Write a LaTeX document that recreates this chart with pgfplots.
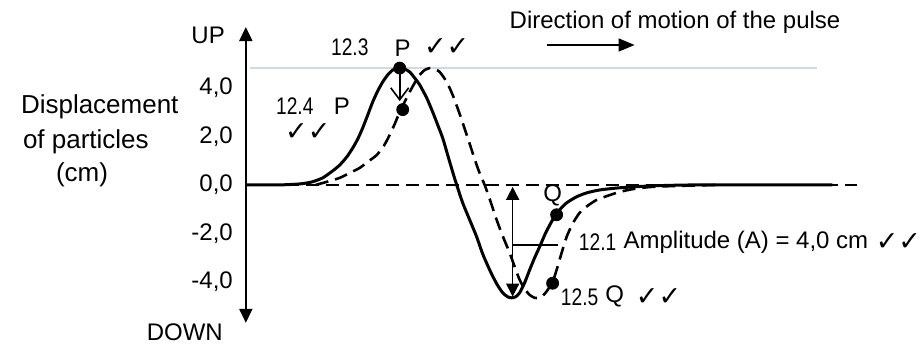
\documentclass[border=0pt]{standalone}
\usepackage{fontspec}
\setmainfont{Liberation Sans}
\newfontfamily\dejavu{DejaVu Sans}
\usepackage{graphicx}
\usepackage{pgfplots}
\pgfplotsset{compat=1.18}
\usetikzlibrary{arrows.meta}

\newcommand{\ck}{{\dejavu\fontsize{13.5}{15}\selectfont ✓✓}}
\newcommand{\nr}[1]{\scalebox{0.8}[1]{#1}}

\definecolor{peakline}{RGB}{205,218,235}

\begin{document}
\begin{tikzpicture}[font=\fontsize{12}{14}\selectfont]
\begin{axis}[
    x=5pt, y=12.15pt,
    xmin=0, xmax=62, ymin=-5.68, ymax=6.5,
    axis x line=none, axis y line=left,
    y axis line style={line width=1pt,
      {Triangle[length=7pt,width=6.5pt]}-{Triangle[length=7pt,width=6.5pt]}},
    ytick={-4,-2,0,2,4},
    yticklabels={{\mbox{-4,0}},{\mbox{-2,0}},{\mbox{0,0}},{\mbox{2,0}},{\mbox{4,0}}},
    major tick length=0pt,
    yticklabel style={font=\fontsize{12}{14}\selectfont, xshift=-3pt},
    clip=false,
  ]
  % level of the crest
  \addplot[peakline, line width=0.6pt] coordinates {(0.4,4.81) (57.2,4.81)};
  % rest position
  \addplot[black, line width=1.2pt, dash pattern=on 6.5pt off 3.5pt] coordinates {(0,0) (61.2,0)};

  % pulse at t
  \addplot[black, line width=1.5pt, smooth, tension=0.4] coordinates {
    (0,0) (3.4,0) (5.4,0.04) (6.6,0.12) (7.7,0.29) (8.7,0.58) (9.4,0.82)
    (10.1,1.15) (10.7,1.52) (11.2,1.89) (11.7,2.35) (12.2,2.88) (12.7,3.42)
    (13.2,3.87) (13.7,4.24) (14.2,4.53) (14.7,4.73) (15.4,4.81) (15.9,4.77)
    (16.4,4.65) (16.9,4.40) (17.4,4.12) (18.1,3.58) (18.7,3.00) (19.2,2.47)
    (19.7,1.93) (20.2,1.23) (20.7,0.53) (21.1,0) (21.7,-0.74) (22.4,-1.44)
    (23.1,-2.14) (23.7,-2.84) (24.4,-3.50) (25.1,-4.07) (25.7,-4.44)
    (26.2,-4.61) (26.6,-4.65) (27.0,-4.61) (27.4,-4.44) (27.9,-4.03)
    (28.4,-3.50) (28.9,-3.00) (29.4,-2.55) (30.0,-1.98) (30.7,-1.44)
    (31.4,-1.03) (32.1,-0.74) (33.1,-0.49) (34.1,-0.33) (35.4,-0.21)
    (37.4,-0.12) (40.7,-0.04) (45.4,0) (58.7,0)};

  % pulse a moment later
  \addplot[black, line width=1.3pt, dash pattern=on 6.5pt off 3.5pt, smooth, tension=0.4] coordinates {
    (7.0,0) (8.4,0.16) (9.4,0.29) (10.4,0.49) (11.4,0.70) (12.2,0.95)
    (13.1,1.23) (13.8,1.60) (14.4,2.06) (14.9,2.51) (15.4,3.00) (15.9,3.42)
    (16.4,3.83) (16.9,4.20) (17.4,4.53) (17.9,4.73) (18.4,4.81) (18.9,4.77)
    (19.4,4.65) (20.1,4.24) (20.7,3.70) (21.4,2.92) (22.1,2.06) (22.6,1.44)
    (23.1,0.82) (23.5,0.37) (23.9,0) (24.5,-0.70) (25.1,-1.44) (25.7,-2.10)
    (26.4,-2.80) (26.9,-3.37) (27.4,-3.91) (27.9,-4.28) (28.4,-4.53)
    (28.9,-4.65) (29.4,-4.65) (29.9,-4.49) (30.4,-4.20) (30.8,-3.87)
    (31.1,-3.50) (31.6,-2.80) (32.1,-2.14) (32.7,-1.60) (33.4,-1.15)
    (34.2,-0.86) (35.1,-0.62) (36.2,-0.45) (37.4,-0.29) (38.9,-0.16)
    (40.7,-0.08) (43.4,-0.04) (47.4,0)};

  % particles P and Q
  \addplot[only marks, mark=*, mark size=3pt, black] coordinates {
    (15.4,4.81) (15.7,3.1) (31.1,-1.23) (30.7,-4.05)};

  % arrows
  \draw[line width=0.8pt, -{Straight Barb[length=6pt,width=9pt]}] (axis cs:15.4,4.6) -- (axis cs:15.4,3.45);
  \draw[line width=0.8pt, {Triangle[length=6.5pt,width=6.5pt]}-{Triangle[length=6.5pt,width=6.5pt]}]
    (axis cs:26.7,-0.08) -- (axis cs:26.7,-4.6);
  \draw[line width=0.8pt] (axis cs:26.7,-2.47) -- (axis cs:31.2,-2.47);
  \draw[line width=0.8pt, -{Triangle[length=8pt,width=6.5pt]}] (axis cs:30.1,5.76) -- (axis cs:38.9,5.76);

  % texts
  \node[anchor=east] at (axis cs:-1.4,6.17) {UP};
  \node[anchor=east] at (axis cs:-1.6,-6.05) {DOWN};
  \node[anchor=west, font=\fontsize{13}{15}\selectfont] at (axis cs:-23.2,3.21) {Displacement};
  \node[anchor=west, font=\fontsize{13}{15}\selectfont] at (axis cs:-23.0,1.77) {of particles};
  \node[anchor=west, font=\fontsize{13}{15}\selectfont] at (axis cs:-19.7,0.41) {(cm)};
  \node[anchor=west] at (axis cs:25.7,6.71) {Direction of motion of the pulse};

  \node at (axis cs:10.4,5.68) {\nr{12.3}};
  \node at (axis cs:15.7,5.64) {P};
  \node at (axis cs:20.1,5.68) {\ck};

  \node at (axis cs:4.9,3.25) {\nr{12.4}};
  \node at (axis cs:9.6,3.25) {P};
  \node at (axis cs:6.2,2.18) {\ck};

  \node at (axis cs:30.7,-0.45) {Q};
  \node at (axis cs:33.4,-4.61) {\nr{12.5}};
  \node at (axis cs:36.9,-4.61) {Q};
  \node at (axis cs:41.3,-4.61) {\ck};

  \node at (axis cs:35.2,-2.35) {\nr{12.1}};
  \node[anchor=west] at (axis cs:37.1,-2.35) {Amplitude (A) = 4,0 cm};
  \node[inner sep=0pt] at (axis cs:65.3,-2.35) {\ck};

  \coordinate (TL) at (axis cs:-24.6,7.613);
  \coordinate (BR) at (axis cs:67.5,-6.584);
\end{axis}
\path (TL) rectangle (BR);
\end{tikzpicture}
\end{document}
